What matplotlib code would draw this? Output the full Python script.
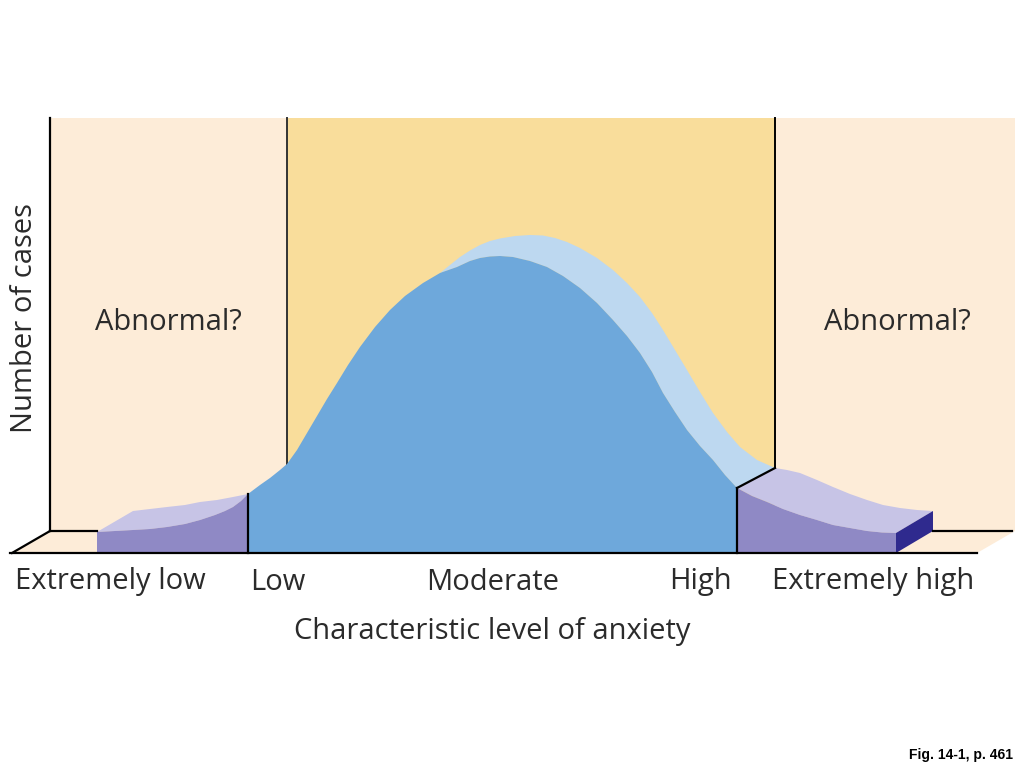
import numpy as np
import matplotlib
matplotlib.use("Agg")
import matplotlib.pyplot as plt

# ---- data (x = anxiety level position, y = number of cases, floor = 0) ----
level_front = np.array([97, 115, 133, 150, 167, 185, 200, 215, 225, 233, 241, 248,
                        260, 270, 280, 287, 297, 307, 317, 327, 337, 348, 360, 375, 390, 405, 423,
                        440, 457, 470, 480, 490, 500, 513, 530, 547, 563, 580, 597, 613, 627, 640,
                        652, 663, 675, 687, 700, 713, 725, 737,
                        752, 767, 783, 800, 817, 833, 850, 867, 882, 896])
cases_front = 553 - np.array([532, 531, 530, 529, 527, 524, 520, 515, 511, 507, 501, 494,
                              485, 478, 470, 464, 450, 433, 416, 399, 383, 365, 347, 327, 310, 296, 283,
                              273, 267, 261, 258, 256.5, 256, 257, 261, 267, 276, 288, 303, 320, 336, 353,
                              372, 393, 412, 430, 446, 460, 475, 488,
                              496, 502, 509, 515, 520, 525, 528, 531, 532.5, 533])

# back (depth) edge of the solid
level_back_left = np.array([133, 150, 167, 185, 200, 217, 233, 248])
cases_back_left = 553 - np.array([511, 509, 507, 505, 502, 500, 497, 494])
level_back_mid = np.array([440, 450, 460, 470, 480, 490, 500, 515, 530, 543, 555, 567, 580, 597,
                           613, 627, 640, 652, 663, 675, 687, 700, 713, 727, 740, 757, 775])
cases_back_mid = 553 - np.array([273, 265, 257, 250.5, 245, 241, 238.5, 236, 235, 235.5, 238, 242, 248, 258,
                                 270, 283, 297, 313, 330, 350, 370, 392, 413, 432, 447, 460, 468])
level_back_right = np.array([775, 787, 800, 817, 833, 850, 867, 883, 900, 917, 933])
cases_back_right = 553 - np.array([468, 470, 473, 480, 487, 494, 500, 505, 508, 510, 511])

tick_labels = ["Extremely low", "Low", "Moderate", "High", "Extremely high"]
tick_pos = [110, 278, 493, 700, 873]
low_cut, high_cut = 248, 737          # front boundaries of the normal range
band_left, band_right = 287, 775      # back-wall boundaries of the normal range

# ---- colours ----
PEACH = "#FDECD8"
YELLOW = "#F9DD9B"
BLUE = "#6EA8DB"
LIGHTBLUE = "#BDD8F0"
PURPLE = "#8F89C5"
LAVENDER = "#C7C4E6"
NAVY = "#2F2A8E"
TXT = "#2b2b2b"

plt.rcParams["font.family"] = ["Open Sans", "DejaVu Sans"]
FS = 21

fig = plt.figure(figsize=(10.24, 7.68), dpi=100)
ax = fig.add_axes([0, 0, 1, 1])
ax.set_xlim(0, 1024)
ax.set_ylim(-215, 553)
ax.axis("off")

wall_top = 553 - 118
floor_back = 553 - 531

# wall + floor
ax.fill([50, 1015, 1015, 977, 10, 50], [wall_top, wall_top, floor_back, 0, 0, floor_back],
        color=PEACH, lw=0, zorder=1)
ax.fill([band_left, band_right, band_right, band_left], [wall_top, wall_top, floor_back, floor_back],
        color=YELLOW, lw=0, zorder=2)

LW = 1.6
ax.plot([50, 50], [wall_top, floor_back], color="black", lw=LW, zorder=3)
i_bl = np.interp(band_left, level_front, cases_front)
ax.plot([band_left, band_left], [wall_top, i_bl], color="#333333", lw=1.4, zorder=3)
ax.plot([band_right, band_right], [wall_top, cases_back_mid[-1]], color="black", lw=1.4, zorder=3)

# light top face of the middle part
m = (level_front >= level_back_mid[0]) & (level_front <= high_cut)
xs = np.concatenate([level_back_mid, level_front[m][::-1]])
ys = np.concatenate([cases_back_mid, cases_front[m][::-1]])
ax.fill(xs, ys, color=LIGHTBLUE, lw=0, zorder=4)

# left top face
m = level_front <= low_cut
xs = np.concatenate([level_front[m], level_back_left[::-1]])
ys = np.concatenate([cases_front[m], cases_back_left[::-1]])
ax.fill(xs, ys, color=LAVENDER, lw=0, zorder=4)

# right top face
m = level_front >= high_cut
xs = np.concatenate([level_back_right, level_front[m][::-1]])
ys = np.concatenate([cases_back_right, cases_front[m][::-1]])
ax.fill(xs, ys, color=LAVENDER, lw=0, zorder=4)

# front faces
for lo, hi, col in [(level_front[0], low_cut, PURPLE), (low_cut, high_cut, BLUE),
                    (high_cut, level_front[-1], PURPLE)]:
    m = (level_front >= lo) & (level_front <= hi)
    xs = np.concatenate([level_front[m], [level_front[m][-1], level_front[m][0]]])
    ys = np.concatenate([cases_front[m], [0, 0]])
    ax.fill(xs, ys, color=col, lw=0, zorder=5)

# end cap
ax.fill([level_front[-1], level_front[-1], level_back_right[-1], level_back_right[-1]],
        [0, cases_front[-1], cases_back_right[-1], floor_back], color=NAVY, lw=0, zorder=6)

# outlines
ax.plot([50, level_front[0]], [floor_back, floor_back], color="black", lw=LW, zorder=7)
ax.plot([12, 50], [0, floor_back], color="black", lw=LW, zorder=7)
ax.plot([10, 977], [0, 0], color="black", lw=LW, zorder=7)
ax.plot([level_back_right[-1], 1012], [floor_back, floor_back], color="black", lw=LW, zorder=7)
ax.plot([low_cut, low_cut], [0, np.interp(low_cut, level_front, cases_front)], color="black", lw=LW, zorder=7)
yh = np.interp(high_cut, level_front, cases_front)
ax.plot([high_cut, high_cut], [0, yh], color="black", lw=LW, zorder=7)
ax.plot([high_cut, band_right], [yh, cases_back_mid[-1]], color="black", lw=LW, zorder=7)

# texts
for lab, x in zip(tick_labels, tick_pos):
    ax.text(x, 553 - 582, lab, ha="center", va="center", fontsize=FS, color=TXT, zorder=8)
ax.text(492, 553 - 632, "Characteristic level of anxiety", ha="center", va="center",
        fontsize=FS, color=TXT, zorder=8)
ax.text(25, 553 - 318, "Number of cases", ha="center", va="center", rotation=90,
        fontsize=FS, color=TXT, zorder=8)
ax.text(168, 553 - 323, "Abnormal?", ha="center", va="center", fontsize=FS, color=TXT, zorder=8)
ax.text(897, 553 - 323, "Abnormal?", ha="center", va="center", fontsize=FS, color=TXT, zorder=8)

fig.text(1013 / 1024, 1 - 755 / 768, "Fig. 14-1, p. 461", ha="right", va="center",
         fontsize=10, fontweight="bold", family=["Liberation Sans", "DejaVu Sans"], color="black")

fig.savefig("out.png", dpi=100, facecolor="white")
